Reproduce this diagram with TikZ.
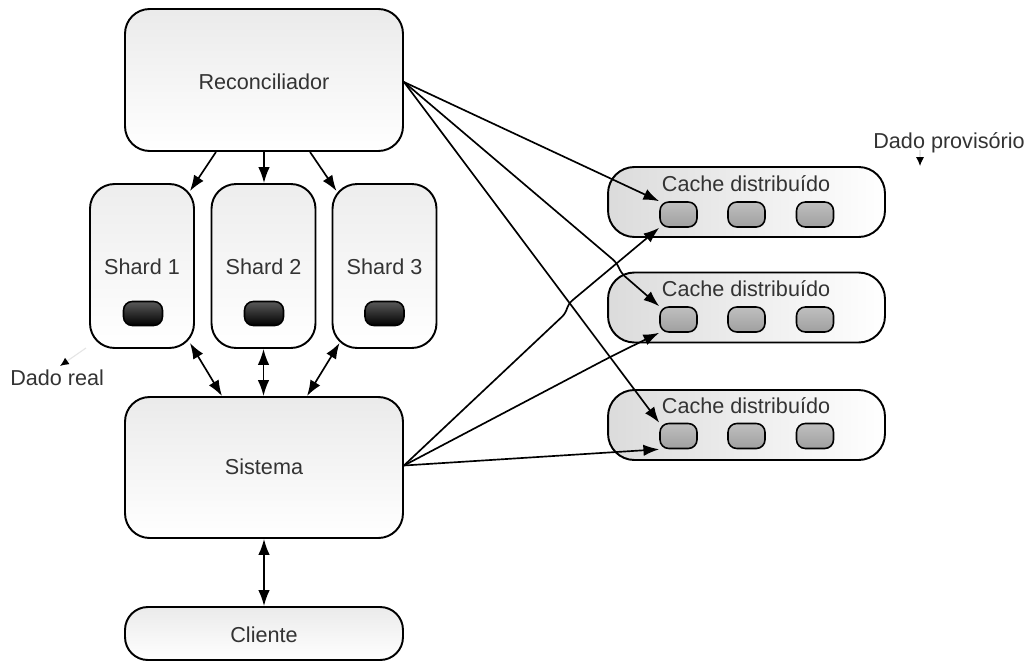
\documentclass[tikz,border=0pt]{standalone}
\usepackage{fontspec}
\setmainfont{Liberation Sans}
\usetikzlibrary{arrows.meta,calc}
\begin{document}
\begin{tikzpicture}[x=0.02cm,y=-0.02cm,
  every node/.style={font=\fontsize{12.3}{14}\selectfont, text=black!80, inner sep=0pt},
  bigbox/.style={draw, line width=1.1pt, rounded corners=14pt, top color=gray!16, bottom color=white, minimum width=5.56cm, minimum height=2.84cm},
  shardbox/.style={draw, line width=1.1pt, rounded corners=14pt, top color=gray!14, bottom color=white, minimum width=2.08cm, minimum height=3.28cm},
  cachebox/.style={draw, line width=1.1pt, rounded corners=15pt, left color=gray!28, right color=white, minimum width=5.54cm, minimum height=1.4cm},
  darkitem/.style={draw, line width=0.9pt, rounded corners=5pt, top color=gray!70!black, bottom color=black, minimum width=0.78cm, minimum height=0.48cm},
  cacheitem/.style={draw, line width=0.9pt, rounded corners=5pt, top color=gray!50, bottom color=gray!75, minimum width=0.74cm, minimum height=0.5cm},
  arr/.style={line width=0.95pt, -{Latex[length=9pt,width=6.5pt]}},
  darr/.style={line width=0.95pt, {Latex[length=9pt,width=6.5pt]}-{Latex[length=9pt,width=6.5pt]}},
  faint/.style={gray!20, line width=0.6pt, -{Latex[length=5pt,width=4.5pt,color=black]}}
]
\useasboundingbox (0,0) rectangle (1026,662);
\fill[white] (0,0) rectangle (1026,662);

% main boxes
\node[bigbox] (rec) at (264,80) {};
\node (rectxt) at (264,82) {Reconciliador};
\node[bigbox, minimum height=2.82cm] (sis) at (264,467.5) {};
\node (sistxt) at (264,467) {Sistema};
\node[bigbox, minimum height=1.06cm, rounded corners=13pt] (cli) at (264,633.5) {};
\node (clitxt) at (264,635) {Cliente};

% shards
\node[shardbox] (sh1) at (142,266) {};
\node[shardbox] (sh2) at (263.5,266) {};
\node[shardbox] (sh3) at (384.5,266) {};
\node (sh1t) at (142,267) {Shard 1};
\node (sh2t) at (263.5,267) {Shard 2};
\node (sh3t) at (384.5,267) {Shard 3};
\node[darkitem] (d1) at (143,313.5) {};
\node[darkitem] (d2) at (264,313.5) {};
\node[darkitem] (d3) at (384.5,313.5) {};

% caches
\node[cachebox] (c1) at (746.5,202) {};
\node[cachebox] (c2) at (746.5,307.5) {};
\node[cachebox] (c3) at (746.5,425) {};
\node (c1t) at (746,184) {Cache distribuído};
\node (c2t) at (746,289) {Cache distribuído};
\node (c3t) at (746,406) {Cache distribuído};
\node[cacheitem] (c1a) at (678.5,214.5) {};
\node[cacheitem] (c1b) at (746.5,214.5) {};
\node[cacheitem] (c1c) at (815,214.5) {};
\node[cacheitem] (c2a) at (678.5,319.5) {};
\node[cacheitem] (c2b) at (746.5,319.5) {};
\node[cacheitem] (c2c) at (815,319.5) {};
\node[cacheitem] (c3a) at (678.5,436) {};
\node[cacheitem] (c3b) at (746.5,436) {};
\node[cacheitem] (c3c) at (815,436) {};

% labels
\node[anchor=west] (dp) at (873,143) {Dado provisório};
\node[anchor=west] (dr) at (10,378) {Dado real};
\coordinate (dpS) at (920,150);
\coordinate (dpE) at (920,166);
\coordinate (drS) at (86,348);
\coordinate (drE) at (60,366);
\draw[faint] (dpS) -- (dpE);
\draw[faint] (drS) -- (drE);

% reconciliador -> shards
\draw[arr] ($(rec.south)+(-48,0)$) -- ($(sh1.north east)+(-5,8)$);
\draw[arr] (rec.south) -- (rec.south |- sh2.north);
\draw[arr] ($(rec.south)+(46,0)$) -- ($(sh3.north west)+(5,8)$);

% shards <-> sistema
\draw[darr] ($(sh1.south east)+(-5,-6)$) -- ($(sis.north)+(-42,0)$);
\draw[darr] (sh2.south) -- (sh2.south |- sis.north);
\draw[darr] ($(sh3.south west)+(8,-6)$) -- ($(sis.north)+(43,0)$);

% sistema <-> cliente
\draw[darr] (sis.south) -- (cli.north);

% reconciliador -> caches
\draw[arr] ($(rec.east)+(0,2)$) -- (c1a.north west);
\draw[arr, rounded corners=3pt] ($(rec.east)+(0,2)$) -- (617,263) -- (621,273) -- (c2a.north west);
\draw[arr] ($(rec.east)+(0,2)$) -- (c3a.north west);

% sistema -> caches
\draw[arr, rounded corners=3pt] ($(sis.east)+(0,-2)$) -- (566,313) -- (568,304) -- (c1a.south west);
\draw[arr, rounded corners=8pt] ($(sis.east)+(0,-2)$) -- (612,356) -- (c2a.south west);
\draw[arr] ($(sis.east)+(0,-2)$) -- (c3a.south west);
\end{tikzpicture}
\end{document}
